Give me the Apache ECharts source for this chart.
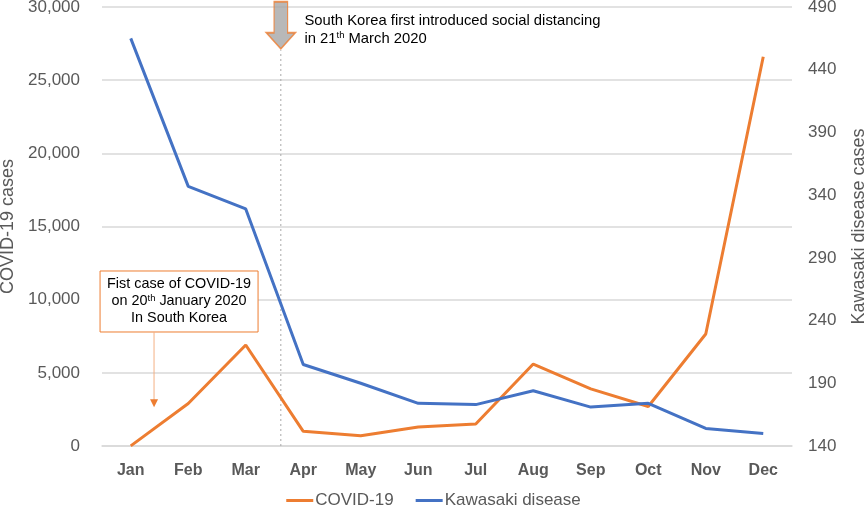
<!DOCTYPE html>
<html>
<head>
<meta charset="utf-8">
<script src="https://cdn.jsdelivr.net/npm/echarts@6/dist/echarts.min.js"></script>
<style>
  html, body { margin: 0; padding: 0; background: #fff; }
  #chart { width: 867px; height: 514px; }
</style>
</head>
<body>
<div id="chart"></div>
<script>
// data
const months = ['Jan', 'Feb', 'Mar', 'Apr', 'May', 'Jun', 'Jul', 'Aug', 'Sep', 'Oct', 'Nov', 'Dec']
const covidCases = [11, 2900, 6900, 1000, 700, 1300, 1500, 5600, 3900, 2700, 7650, 26600]
const kawasakiCases = [465, 347, 329, 205, 190, 174, 173, 184, 171, 174, 154, 150]

// axis ranges
const covidAxis = { min: 0, max: 30000, interval: 5000 }
const kawasakiAxis = { min: 140, max: 490, interval: 50 }

// annotation anchors, in (month-band position 0..12, COVID-19 cases)
const distancingLine = [[3.11, 0], [3.11, 27050]]
const distancingArrow = [[3.11, 28750]]
const distancingNoteAt = [3.52, 29650]
const firstCaseBoxAt = [1.34, 11960]
const firstCaseArrow = [[0.905, 7790], [0.905, 2640]]

const distancingNote = ['South Korea first introduced social distancing', ['in 21', 'th', ' March 2020']]
const firstCaseNote = ['Fist case of COVID-19', ['on 20', 'th', ' January 2020'], 'In South Korea']

const orange = '#ed7d31'
const blue = '#4472c4'
const grey = '#595959'
const font = 'Liberation Sans, Arial, sans-serif'

const chart = echarts.init(document.getElementById('chart'))

const option = {
  animation: false,
  textStyle: { fontFamily: font },
  grid: { left: 102, right: 75, top: 7, bottom: 68, outerBoundsMode: 'none' },
  legend: {
    data: ['COVID-19', 'Kawasaki disease'],
    bottom: 0,
    left: 'center',
    icon: 'rect',
    itemWidth: 27,
    itemHeight: 3,
    itemGap: 22,
    textStyle: { fontSize: 17, color: grey, padding: [0, 0, 0, -3] }
  },
  xAxis: [
    {
      type: 'category',
      data: months,
      axisLine: { lineStyle: { color: '#d9d9d9', width: 1.5 } },
      axisTick: { show: false },
      axisLabel: { color: grey, fontSize: 16, fontWeight: 'bold', margin: 17 }
    },
    { type: 'value', min: 0, max: 12, show: false }
  ],
  yAxis: [
    {
      type: 'value',
      min: covidAxis.min,
      max: covidAxis.max,
      interval: covidAxis.interval,
      name: 'COVID-19 cases',
      nameLocation: 'middle',
      nameRotate: 90,
      nameGap: 80,
      nameTextStyle: { fontSize: 18, color: grey },
      axisLine: { show: false },
      axisTick: { show: false },
      axisLabel: {
        color: grey,
        fontSize: 17,
        margin: 22,
        formatter: v => v.toLocaleString('en-US')
      },
      splitLine: { lineStyle: { color: '#d9d9d9', width: 1.5 } }
    },
    {
      type: 'value',
      min: kawasakiAxis.min,
      max: kawasakiAxis.max,
      interval: kawasakiAxis.interval,
      name: 'Kawasaki disease cases',
      nameLocation: 'middle',
      nameRotate: 90,
      nameGap: 58,
      nameTextStyle: { fontSize: 18, color: grey },
      axisLine: { show: false },
      axisTick: { show: false },
      axisLabel: { color: grey, fontSize: 17, margin: 16 },
      splitLine: { show: false }
    }
  ],
  series: [
    {
      name: 'COVID-19',
      type: 'line',
      data: covidCases,
      yAxisIndex: 0,
      symbol: 'none',
      lineStyle: { color: orange, width: 3 },
      itemStyle: { color: orange },
      z: 3
    },
    {
      name: 'Kawasaki disease',
      type: 'line',
      data: kawasakiCases,
      yAxisIndex: 1,
      symbol: 'none',
      lineStyle: { color: blue, width: 3 },
      itemStyle: { color: blue },
      z: 3
    },
    {
      name: 'distancing',
      type: 'line',
      xAxisIndex: 1,
      yAxisIndex: 0,
      data: distancingLine,
      symbol: 'none',
      silent: true,
      lineStyle: { color: '#aaaaaa', width: 1, type: [2, 3] },
      z: 1
    },
    {
      name: 'distancing arrow',
      type: 'scatter',
      xAxisIndex: 1,
      yAxisIndex: 0,
      data: distancingArrow,
      silent: true,
      symbol: 'path://M8,0 L22,0 L22,31 L30,31 L15,47 L0,31 L8,31 Z',
      symbolSize: [29, 47],
      itemStyle: { color: '#a6a6a6', borderColor: orange, borderWidth: 1.5 },
      z: 4
    }
  ]
}

chart.setOption(option)

function noteLine(line) {
  if (typeof line === 'string') return '{t|' + line + '}'
  return '{t|' + line[0] + '}{sup|' + line[1] + '}{t|' + line[2] + '}'
}

function drawNotes() {
  const toPx = v => chart.convertToPixel({ xAxisIndex: 1, yAxisIndex: 0 }, v)
  const richTop = {
    t: { fontSize: 14.8, lineHeight: 18, color: '#262626', fontFamily: font },
    sup: { fontSize: 9.5, lineHeight: 18, verticalAlign: 'top', color: '#262626', fontFamily: font }
  }
  const richBox = {
    t: { fontSize: 14.4, lineHeight: 17, color: '#262626', fontFamily: font },
    sup: { fontSize: 9.5, lineHeight: 17, verticalAlign: 'top', color: '#262626', fontFamily: font }
  }
  const note = toPx(distancingNoteAt)
  const box = toPx(firstCaseBoxAt)
  const a0 = toPx(firstCaseArrow[0])
  const a1 = toPx(firstCaseArrow[1])
  const boxW = 158
  const boxH = 61

  chart.setOption({
    graphic: [
      {
        type: 'text',
        x: note[0],
        y: note[1],
        silent: true,
        style: {
          text: distancingNote.map(noteLine).join('\n'),
          rich: richTop,
          align: 'left',
          verticalAlign: 'top'
        }
      },
      {
        type: 'rect',
        silent: true,
        shape: { x: box[0] - boxW / 2, y: box[1], width: boxW, height: boxH },
        style: { fill: '#fff', stroke: orange, lineWidth: 1 },
        z: 10
      },
      {
        type: 'text',
        silent: true,
        x: box[0],
        y: box[1] + boxH / 2,
        style: {
          text: firstCaseNote.map(noteLine).join('\n'),
          rich: richBox,
          align: 'center',
          verticalAlign: 'middle'
        },
        z: 11
      },
      {
        type: 'line',
        silent: true,
        shape: { x1: a0[0], y1: a0[1], x2: a1[0], y2: a1[1] - 7 },
        style: { stroke: '#f4b183', lineWidth: 1 },
        z: 10
      },
      {
        type: 'polygon',
        silent: true,
        shape: { points: [[a1[0] - 4, a1[1] - 8], [a1[0] + 4, a1[1] - 8], [a1[0], a1[1]]] },
        style: { fill: orange },
        z: 10
      }
    ]
  })
}

drawNotes()
</script>
</body>
</html>
